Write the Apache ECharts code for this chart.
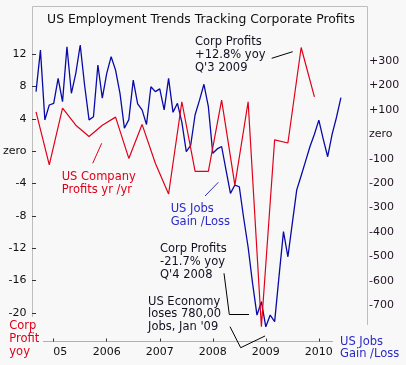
<!DOCTYPE html>
<html><head><meta charset="utf-8">
<script src="https://cdn.jsdelivr.net/npm/echarts@6/dist/echarts.min.js"></script>
<style>html,body{margin:0;padding:0;background:#f8f8f8}#c{width:406px;height:365px}</style>
</head><body><div id="c"></div><script>
// US jobs gain/loss (thousands), monthly from Sep 2004
const jobsStart = [2004, 9];
const jobs = [175, 345, 59, 120, 127, 229, 134, 359, 168, 250, 366, 200,
  59, 72, 284, 148, 250, 318, 263, 168, 25, 60, 222, 125,
  100, 40, 195, 175, 186, 100, 229, 90, 127, 50, -71, -45,
  80, 140, 205, 113, -78, -60, -50, -147, -242, -208, -215, -344,
  -463, -610, -741, -686, -789, -741, -768, -580, -399, -502, -364, -228,
  -170, -110, -50, 0, 58, -20, -92, 0, 70, 150];
// Corporate profits yoy %, quarterly (plotted at quarter end)
const profitQuarters = ['2004Q3','2004Q4','2005Q1','2005Q2','2005Q3','2005Q4','2006Q1','2006Q2',
  '2006Q3','2006Q4','2007Q1','2007Q2','2007Q3','2007Q4','2008Q1','2008Q2','2008Q3','2008Q4',
  '2009Q1','2009Q2','2009Q3','2009Q4'];
const profits = [4.85, -1.7, 5.3, 3.2, 1.8, 3.2, 4.2, -0.9, 3.3, -1.5, -5.3, 6.1,
  -2.5, -2.5, 6.3, -4.2, 6.1, -21.7, 1.4, 1.0, 12.8, 6.7];
const yearTicks = [2005, 2006, 2007, 2008, 2009, 2010];
const yearLabels = ['05', '2006', '2007', '2008', '2009', '2010'];
const leftTicks = [12, 8, 4, 0, -4, -8, -12, -16, -20];
const rightTicks = [300, 200, 100, 0, -100, -200, -300, -400, -500, -600, -700];

function mIdx(y, m) { return (y - jobsStart[0]) * 12 + (m - jobsStart[1]); }
const jobsData = jobs.map((v, i) => [i, v]);
const profitData = profitQuarters.map((q, i) => {
  const y = +q.slice(0, 4), qn = +q.slice(5);
  return [mIdx(y, qn * 3), profits[i]];
});
const yearPos = yearTicks.map(y => mIdx(y, 1));
const FONT = 'DejaVu Sans';

const chart = echarts.init(document.getElementById('c'));
chart.setOption({
  animation: false,
  backgroundColor: '#f8f8f8',
  grid: { left: 32, right: 39, top: 6, bottom: 23.5 },
  xAxis: {
    type: 'value', min: -0.56, max: 74.9,
    axisLine: { show: false, onZero: false }, splitLine: { show: false },
    axisTick: { show: true, inside: true, length: 3, customValues: yearPos, lineStyle: { color: '#333' } },
    axisLabel: {
      customValues: yearPos, margin: 5, fontFamily: FONT, fontSize: 11, color: '#111',
      formatter: v => { const i = yearPos.indexOf(v); const t = yearLabels[i]; return i === 0 ? '{s|' + t + '}' : t; },
      rich: { s: { padding: [0, 0, 0, 13], fontFamily: FONT, fontSize: 11, color: '#111' } }
    }
  },
  yAxis: [
    {
      type: 'value', position: 'left', min: -23.52, max: 17.93,
      axisLine: { show: false }, splitLine: { show: false },
      axisTick: { show: true, length: 4, customValues: leftTicks, lineStyle: { color: '#333' } },
      axisLabel: { customValues: leftTicks, margin: 7, fontFamily: FONT, fontSize: 11, color: '#111',
        formatter: v => v === 0 ? 'zero' : String(v) }
    },
    {
      type: 'value', position: 'right', min: -849.2, max: 525.8,
      axisLine: { show: false }, splitLine: { show: false },
      axisTick: { show: false },
      axisLabel: { customValues: rightTicks, margin: 2, fontFamily: FONT, fontSize: 11, color: '#221122',
        formatter: v => v > 0 ? '+' + v : (v === 0 ? 'zero' : String(v)) }
    }
  ],
  series: [
    { type: 'line', yAxisIndex: 1, data: jobsData, showSymbol: false, lineStyle: { color: '#0a0aa8', width: 1.3 }, z: 2 },
    { type: 'line', yAxisIndex: 0, data: profitData, showSymbol: false, lineStyle: { color: '#e0001a', width: 1.2 }, z: 3 }
  ],
  graphic: [
    { type: 'polyline', shape: { points: [[32.5, 317], [32.5, 6.5], [367.5, 6.5], [367.5, 325]] }, style: { stroke: '#bdbdbd', fill: null, lineWidth: 1 } },
    { type: 'line', shape: { x1: 43, y1: 341.5, x2: 333, y2: 341.5 }, style: { stroke: '#b0b0b0', lineWidth: 1 } },
    { type: 'text', x: 201, y: 20, style: { text: 'US Employment Trends Tracking Corporate Profits', font: '12.4px "DejaVu Sans"', fill: '#111', align: 'center', verticalAlign: 'middle' } },
    { type: 'text', x: 195, y: 36, style: { text: "Corp Profits\n+12.8% yoy\nQ'3 2009", font: '11.5px "DejaVu Sans"', lineHeight: 12.7, fill: '#111122', align: 'left', verticalAlign: 'top' } },
    { type: 'line', shape: { x1: 271.7, y1: 58.3, x2: 292.7, y2: 51.7 }, style: { stroke: '#000', lineWidth: 1 } },
    { type: 'text', x: 61.7, y: 170, style: { text: 'US Company\nProfits yr /yr', font: '11.5px "DejaVu Sans"', lineHeight: 13.3, fill: '#e0001a', align: 'left', verticalAlign: 'top' } },
    { type: 'line', shape: { x1: 92.7, y1: 163.3, x2: 101.7, y2: 143.3 }, style: { stroke: '#e0001a', lineWidth: 1 } },
    { type: 'text', x: 170.7, y: 203, style: { text: 'US Jobs\nGain /Loss', font: '11.5px "DejaVu Sans"', lineHeight: 12.7, fill: '#2a2ac8', align: 'left', verticalAlign: 'top' } },
    { type: 'line', shape: { x1: 205, y1: 196, x2: 218.3, y2: 182.3 }, style: { stroke: '#2a2ac8', lineWidth: 1 } },
    { type: 'text', x: 160, y: 243, style: { text: "Corp Profits\n-21.7% yoy\nQ'4 2008", font: '11.5px "DejaVu Sans"', lineHeight: 12.8, fill: '#111122', align: 'left', verticalAlign: 'top' } },
    { type: 'polyline', shape: { points: [[224, 273.3], [229.3, 314.5], [249, 314.5]] }, style: { stroke: '#000', fill: null, lineWidth: 1 } },
    { type: 'text', x: 148, y: 295.5, style: { text: "US Economy\nloses 780,00\nJobs, Jan '09", font: '11.5px "DejaVu Sans"', lineHeight: 12.5, fill: '#111122', align: 'left', verticalAlign: 'top' } },
    { type: 'polyline', shape: { points: [[230, 326.7], [240.7, 347.7], [265, 336]] }, style: { stroke: '#000', fill: null, lineWidth: 1 } },
    { type: 'text', x: 9.3, y: 319.5, style: { text: 'Corp\nProfit\nyoy', font: '11.5px "DejaVu Sans"', lineHeight: 13.1, fill: '#e0001a', align: 'left', verticalAlign: 'top' } },
    { type: 'text', x: 340, y: 336, style: { text: 'US Jobs\nGain /Loss', font: '11.5px "DejaVu Sans"', lineHeight: 12, fill: '#2a2ac8', align: 'left', verticalAlign: 'top' } }
  ]
});
</script></body></html>
